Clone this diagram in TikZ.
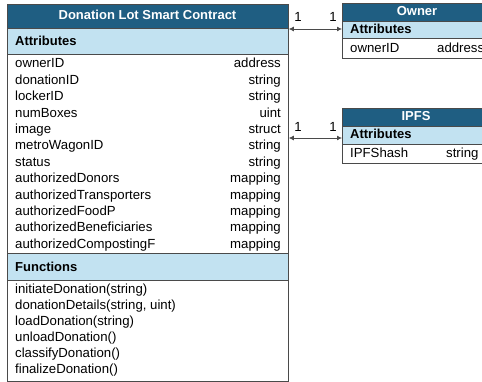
\documentclass[tikz,border=0pt]{standalone}
\usepackage{fontspec}
\setmainfont{Liberation Sans}
\usetikzlibrary{arrows.meta}
\definecolor{hdrblue}{HTML}{1F5E82}
\definecolor{secblue}{HTML}{C2E2F1}
\definecolor{rulegray}{HTML}{4A4A4A}
\tikzset{
  basefont/.style={font=\fontsize{13.2}{15}\selectfont},
  txt/.style={basefont, anchor=base west, inner sep=0pt},
  val/.style={basefont, anchor=base east, inner sep=0pt},
  hdr/.style={anchor=base west, inner sep=0pt, font=\fontsize{13}{15}\selectfont\bfseries},
  ttl/.style={anchor=base, inner sep=0pt, text=white, font=\fontsize{13}{15}\selectfont\bfseries},
  mult/.style={basefont, anchor=base, inner sep=0pt},
  boxframe/.style={draw=rulegray, line width=0.8pt},
  link/.style={{Latex[length=5pt,width=5pt]}-{Latex[length=5pt,width=5pt]}, line width=0.8pt, draw=rulegray},
}
\begin{document}
\begin{tikzpicture}[x=1pt, y=-1pt]
\useasboundingbox (0,0) rectangle (482,382);
\clip (0,0) rectangle (482,382);

% ---- Donation Lot Smart Contract class ----
\fill[hdrblue] (7,4) rectangle (288,28);
\fill[secblue] (7,28) rectangle (288,54);
\fill[secblue] (7,253) rectangle (288,280);
\draw[boxframe] (7,28) -- (288,28) (7,54) -- (288,54) (7,253) -- (288,253) (7,280) -- (288,280);
\node[boxframe, anchor=north west, minimum width=281pt, minimum height=377pt, inner sep=0pt] (main) at (7,4) {};
\node[ttl] (mainT) at (147.5,20) {Donation Lot Smart Contract};
\node[hdr] (mainA) at (15,46) {Attributes};
\foreach \n/\t [count=\i] in {ownerID/address, donationID/string, lockerID/string,
    numBoxes/uint, image/struct, metroWagonID/string, status/string,
    authorizedDonors/mapping, authorizedTransporters/mapping, authorizedFoodP/mapping,
    authorizedBeneficiaries/mapping, authorizedCompostingF/mapping} {
  \node[txt] (attr\i) at (15,{68+(\i-1)*16.4}) {\n};
  \node[val] (type\i) at (281,{68+(\i-1)*16.4}) {\t};
}
\node[hdr] (mainF) at (15,272) {Functions};
\foreach \f [count=\i] in {initiateDonation(string), {donationDetails(string, uint)},
    loadDonation(string), unloadDonation(), classifyDonation(), finalizeDonation()} {
  \node[txt] (fn\i) at (15,{293+(\i-1)*16}) {\f};
}

% ---- Owner class ----
\fill[hdrblue] (342,3) rectangle (491,21);
\fill[secblue] (342,21) rectangle (491,38);
\draw[boxframe] (342,21) -- (491,21) (342,38) -- (491,38);
\node[boxframe, anchor=north west, minimum width=149pt, minimum height=55pt, inner sep=0pt] (owner) at (342,3) {};
\node[ttl] (ownerT) at (417,16) {Owner};
\node[hdr] (ownerA) at (350,34) {Attributes};
\node[txt] (ownerAttr) at (350,53) {ownerID};
\node[txt] (ownerType) at (437,53) {address};

% ---- IPFS class ----
\fill[hdrblue] (342,108) rectangle (491,126);
\fill[secblue] (342,126) rectangle (491,144);
\draw[boxframe] (342,126) -- (491,126) (342,144) -- (491,144);
\node[boxframe, anchor=north west, minimum width=149pt, minimum height=55pt, inner sep=0pt] (ipfs) at (342,108) {};
\node[ttl] (ipfsT) at (416,121) {IPFS};
\node[hdr] (ipfsA) at (350,139) {Attributes};
\node[txt] (ipfsAttr) at (350,158) {IPFShash};
\node[txt] (ipfsType) at (446,158) {string};

% ---- associations ----
\draw[link] (main.east |- 0,29) -- (owner.west |- 0,29);
\node[mult] (m1) at (298,22) {1};
\node[mult] (m2) at (333,22) {1};
\draw[link] (main.east |- 0,138) -- (ipfs.west |- 0,138);
\node[mult] (m3) at (298,132) {1};
\node[mult] (m4) at (333,132) {1};
\end{tikzpicture}
\end{document}
